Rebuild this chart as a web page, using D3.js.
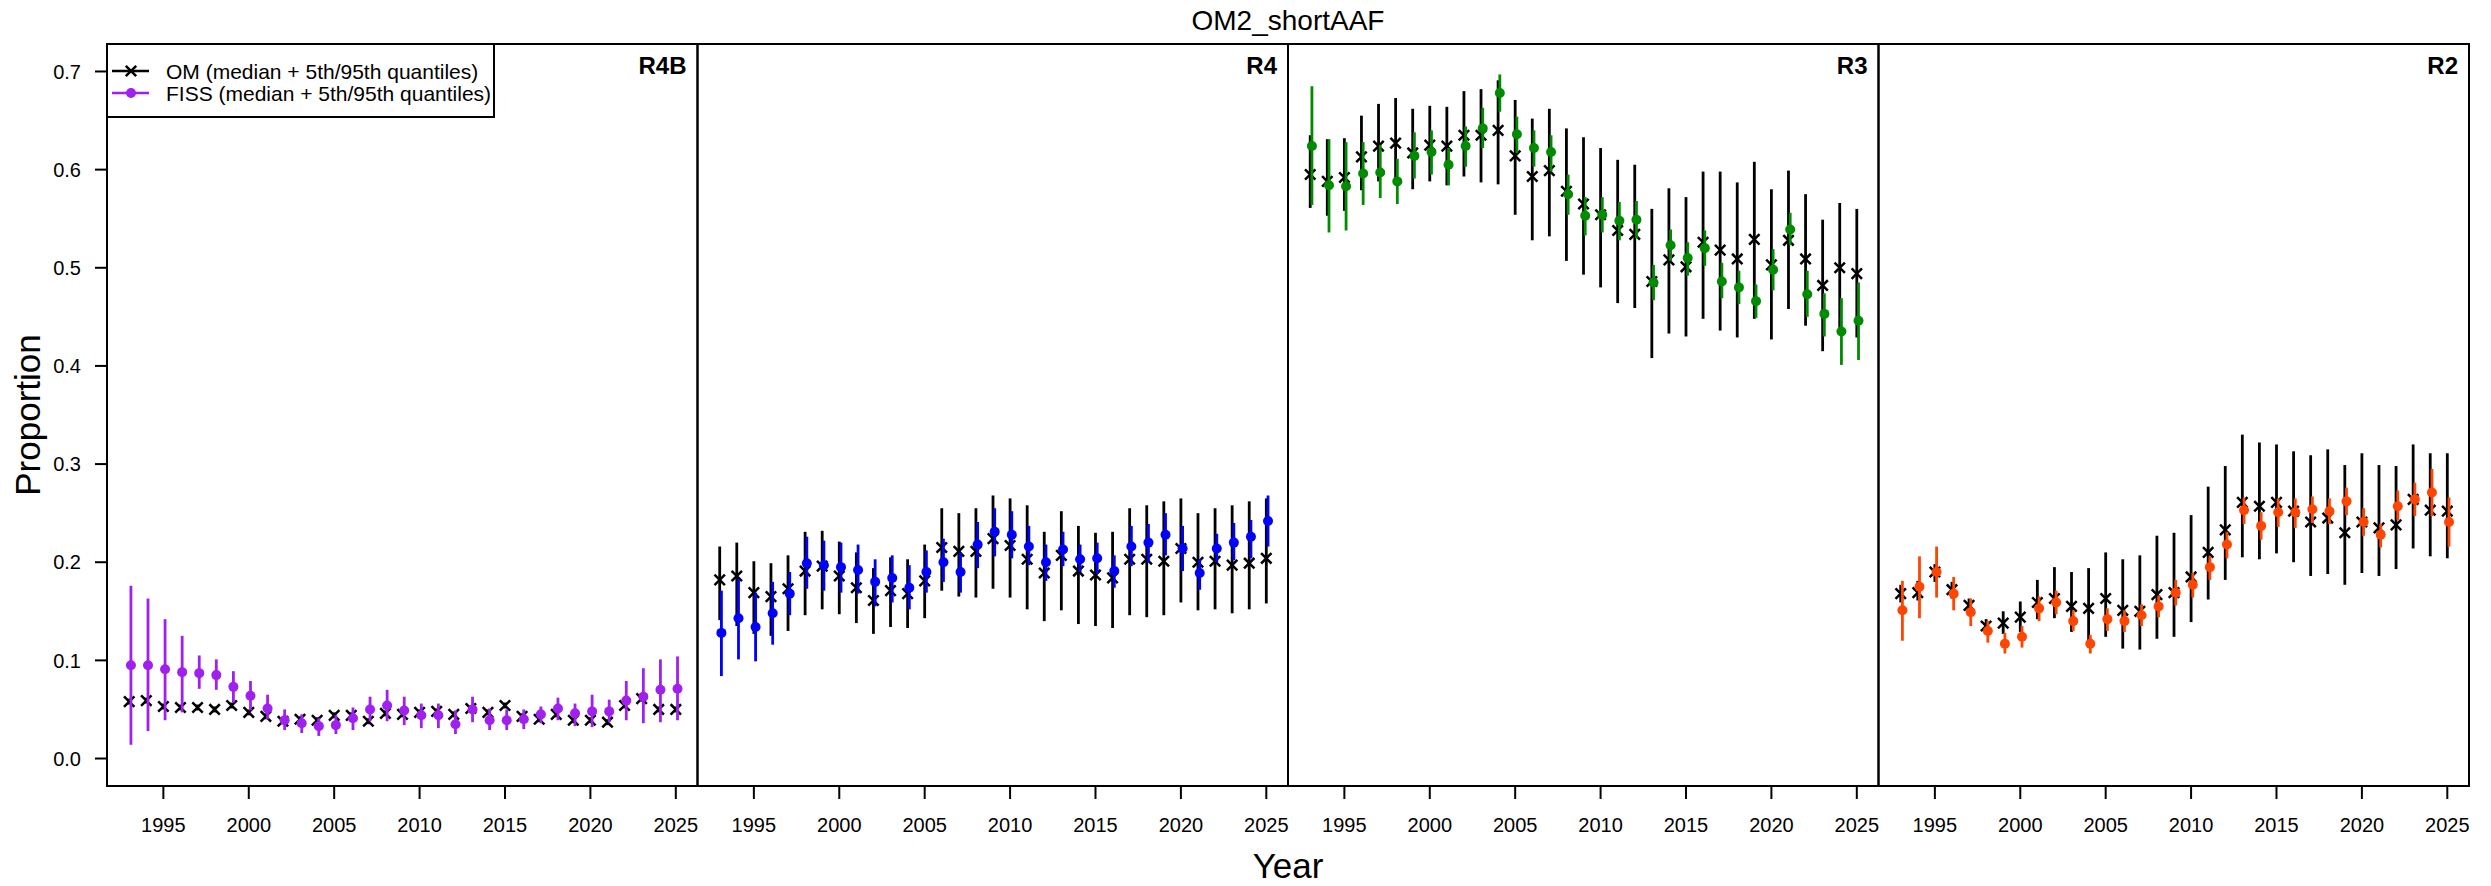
<!DOCTYPE html>
<html><head><meta charset="utf-8">
<script src="https://cdn.jsdelivr.net/npm/d3@7"></script>
<style>
body{margin:0;background:#fff}
svg{display:block}
text{font-family:"Liberation Sans",Arial,sans-serif;fill:#000}
</style>
</head><body>
<svg id="chart" width="2491" height="886"></svg>
<script>
// ---------------- DATA ----------------
const title = "OM2_shortAAF";
const years = [1993,1994,1995,1996,1997,1998,1999,2000,2001,2002,2003,2004,2005,2006,2007,2008,2009,2010,2011,2012,2013,2014,2015,2016,2017,2018,2019,2020,2021,2022,2023,2024,2025];
const regions = ["R4B","R4","R3","R2"];
const fissColors = ["#A020F0","#0000FF","#008B00","#FF4500"];
const xTicks = [1995,2000,2005,2010,2015,2020,2025];
const yTicks = [0.0,0.1,0.2,0.3,0.4,0.5,0.6,0.7];
const legendLabels = ["OM (median + 5th/95th quantiles)","FISS (median + 5th/95th quantiles)"];

// R4B
const omMed_R4B = [0.058,0.059,0.053,0.052,0.052,0.050,0.054,0.047,0.043,0.038,0.040,0.039,0.044,0.044,0.038,0.046,0.045,0.047,0.048,0.045,0.051,0.047,0.054,0.043,0.040,0.045,0.039,0.039,0.037,0.054,0.061,0.050,0.050];
const omLo_R4B  = [0.055,0.056,0.050,0.049,0.049,0.047,0.051,0.044,0.040,0.035,0.037,0.036,0.041,0.041,0.035,0.043,0.042,0.044,0.045,0.042,0.048,0.044,0.051,0.040,0.037,0.042,0.036,0.036,0.034,0.051,0.058,0.047,0.047];
const omHi_R4B  = [0.061,0.062,0.056,0.055,0.055,0.053,0.057,0.050,0.046,0.041,0.043,0.042,0.047,0.047,0.041,0.049,0.048,0.050,0.051,0.048,0.054,0.050,0.057,0.046,0.043,0.048,0.042,0.042,0.040,0.057,0.064,0.053,0.053];
const fsMed_R4B = [0.095,0.095,0.091,0.088,0.087,0.085,0.073,0.064,0.051,0.039,0.036,0.033,0.034,0.041,0.050,0.054,0.049,0.044,0.044,0.035,0.050,0.039,0.039,0.040,0.045,0.051,0.046,0.048,0.048,0.059,0.063,0.070,0.071];
const fsLo_R4B  = [0.014,0.028,0.039,0.047,0.071,0.070,0.057,0.049,0.040,0.029,0.026,0.023,0.025,0.029,0.038,0.038,0.034,0.031,0.031,0.025,0.037,0.029,0.029,0.030,0.036,0.039,0.033,0.032,0.037,0.039,0.036,0.037,0.039];
const fsHi_R4B  = [0.176,0.163,0.142,0.125,0.105,0.101,0.089,0.079,0.065,0.050,0.045,0.041,0.044,0.052,0.063,0.070,0.063,0.056,0.056,0.049,0.063,0.051,0.050,0.050,0.053,0.062,0.056,0.065,0.060,0.079,0.092,0.101,0.104];

// R4
const omMed_R4 = [0.182,0.186,0.169,0.165,0.173,0.191,0.196,0.186,0.174,0.161,0.171,0.168,0.181,0.215,0.211,0.211,0.224,0.217,0.203,0.189,0.207,0.191,0.187,0.184,0.203,0.203,0.201,0.214,0.200,0.201,0.197,0.199,0.204];
const omLo_R4  = [0.141,0.135,0.127,0.125,0.130,0.146,0.152,0.147,0.138,0.127,0.134,0.133,0.143,0.171,0.165,0.164,0.173,0.164,0.152,0.140,0.151,0.137,0.135,0.133,0.146,0.144,0.146,0.159,0.151,0.152,0.148,0.152,0.158];
const omHi_R4  = [0.216,0.220,0.201,0.199,0.207,0.231,0.232,0.221,0.210,0.194,0.205,0.203,0.218,0.255,0.250,0.255,0.268,0.265,0.258,0.231,0.252,0.237,0.230,0.231,0.255,0.258,0.262,0.265,0.250,0.255,0.258,0.262,0.265];
const fsMed_R4 = [0.128,0.143,0.134,0.148,0.168,0.199,0.197,0.195,0.192,0.180,0.184,0.174,0.190,0.200,0.190,0.218,0.231,0.228,0.216,0.200,0.213,0.203,0.204,0.191,0.216,0.220,0.228,0.214,0.189,0.214,0.220,0.226,0.242];
const fsLo_R4  = [0.084,0.101,0.099,0.116,0.146,0.173,0.171,0.169,0.168,0.155,0.159,0.152,0.169,0.180,0.169,0.194,0.206,0.204,0.197,0.181,0.196,0.190,0.188,0.174,0.196,0.200,0.207,0.191,0.172,0.200,0.202,0.204,0.216];
const fsHi_R4  = [0.171,0.183,0.169,0.180,0.190,0.226,0.222,0.220,0.218,0.203,0.207,0.197,0.212,0.224,0.210,0.241,0.255,0.252,0.237,0.218,0.231,0.218,0.220,0.207,0.237,0.239,0.250,0.237,0.203,0.229,0.240,0.243,0.268];

// R3
const omMed_R3 = [0.595,0.588,0.592,0.613,0.624,0.627,0.617,0.625,0.624,0.635,0.635,0.640,0.614,0.593,0.599,0.578,0.565,0.554,0.538,0.534,0.486,0.508,0.501,0.526,0.518,0.509,0.529,0.503,0.528,0.509,0.482,0.500,0.494];
const omLo_R3  = [0.561,0.553,0.558,0.579,0.588,0.591,0.580,0.588,0.584,0.593,0.587,0.585,0.554,0.528,0.532,0.507,0.493,0.480,0.464,0.459,0.408,0.433,0.430,0.448,0.436,0.429,0.448,0.427,0.458,0.441,0.415,0.434,0.429];
const omHi_R3  = [0.635,0.631,0.632,0.655,0.667,0.673,0.662,0.665,0.664,0.680,0.682,0.691,0.671,0.652,0.662,0.642,0.633,0.622,0.610,0.605,0.560,0.581,0.572,0.598,0.598,0.587,0.608,0.580,0.599,0.575,0.549,0.566,0.560];
const fsMed_R3 = [0.624,0.584,0.583,0.596,0.597,0.588,0.614,0.618,0.605,0.624,0.642,0.678,0.636,0.622,0.618,0.575,0.553,0.554,0.548,0.549,0.485,0.523,0.510,0.520,0.486,0.480,0.466,0.498,0.539,0.473,0.453,0.435,0.446];
const fsLo_R3  = [0.564,0.536,0.538,0.564,0.571,0.565,0.591,0.595,0.584,0.603,0.622,0.659,0.617,0.603,0.598,0.554,0.533,0.536,0.528,0.530,0.467,0.507,0.492,0.502,0.469,0.463,0.449,0.477,0.523,0.450,0.430,0.401,0.406];
const fsHi_R3  = [0.685,0.631,0.628,0.628,0.625,0.611,0.638,0.640,0.622,0.644,0.663,0.697,0.654,0.640,0.635,0.595,0.572,0.572,0.567,0.568,0.503,0.539,0.526,0.538,0.505,0.497,0.483,0.519,0.556,0.497,0.474,0.469,0.485];

// R2
const omMed_R2 = [0.168,0.169,0.190,0.172,0.156,0.135,0.138,0.144,0.159,0.163,0.155,0.153,0.163,0.151,0.150,0.167,0.169,0.185,0.210,0.233,0.261,0.257,0.261,0.252,0.241,0.245,0.230,0.241,0.235,0.238,0.264,0.253,0.252];
const omLo_R2  = [0.159,0.161,0.180,0.163,0.149,0.129,0.127,0.129,0.142,0.143,0.129,0.115,0.124,0.112,0.111,0.122,0.124,0.139,0.162,0.182,0.205,0.203,0.209,0.200,0.186,0.188,0.177,0.189,0.186,0.193,0.214,0.206,0.204];
const omHi_R2  = [0.177,0.181,0.198,0.180,0.163,0.142,0.150,0.160,0.182,0.195,0.190,0.194,0.210,0.203,0.207,0.227,0.230,0.248,0.277,0.298,0.330,0.322,0.320,0.313,0.309,0.315,0.299,0.311,0.299,0.298,0.320,0.311,0.311];
const fsMed_R2 = [0.151,0.175,0.190,0.168,0.149,0.130,0.117,0.124,0.153,0.159,0.140,0.117,0.142,0.140,0.146,0.155,0.169,0.177,0.195,0.218,0.253,0.237,0.251,0.251,0.254,0.252,0.262,0.241,0.228,0.257,0.264,0.271,0.241];
const fsLo_R2  = [0.120,0.143,0.164,0.151,0.135,0.118,0.107,0.113,0.140,0.147,0.130,0.107,0.130,0.129,0.135,0.144,0.156,0.164,0.182,0.204,0.239,0.223,0.236,0.235,0.240,0.239,0.248,0.227,0.215,0.243,0.247,0.247,0.216];
const fsHi_R2  = [0.181,0.206,0.216,0.185,0.163,0.140,0.128,0.135,0.165,0.171,0.151,0.126,0.153,0.151,0.157,0.166,0.182,0.189,0.206,0.231,0.266,0.251,0.265,0.265,0.267,0.265,0.276,0.255,0.239,0.273,0.281,0.295,0.266];

const panels = [
  {om:[omMed_R4B,omLo_R4B,omHi_R4B], fs:[fsMed_R4B,fsLo_R4B,fsHi_R4B]},
  {om:[omMed_R4,omLo_R4,omHi_R4],    fs:[fsMed_R4,fsLo_R4,fsHi_R4]},
  {om:[omMed_R3,omLo_R3,omHi_R3],    fs:[fsMed_R3,fsLo_R3,fsHi_R3]},
  {om:[omMed_R2,omLo_R2,omHi_R2],    fs:[fsMed_R2,fsLo_R2,fsHi_R2]}
];

// ---------------- LAYOUT ----------------
const svg = d3.select("#chart");
svg.append("rect").attr("width",2491).attr("height",886).attr("fill","#fff");
const plotL = 107, plotR = 2469, plotT = 44, plotB = 786;
const panelW = (plotR - plotL) / regions.length;
const y = d3.scaleLinear().domain([-0.028, 0.728]).range([plotB, plotT]);
const fissOffset = 0.1;
const crossS = 5.2, crossW = 2.5, dotR = 5.0;

function crossPath(cx, cy) {
  const s = crossS;
  return `M${cx-s},${cy-s}L${cx+s},${cy+s}M${cx-s},${cy+s}L${cx+s},${cy-s}`;
}

regions.forEach((reg, i) => {
  const x0 = plotL + i * panelW;
  const x = d3.scaleLinear().domain([1991.7, 2026.27]).range([x0, x0 + panelW]);
  const g = svg.append("g");
  const p = panels[i];

  // OM whiskers
  g.selectAll(".omw").data(years).enter().append("line")
    .attr("x1", (d) => x(d)).attr("x2", (d) => x(d))
    .attr("y1", (d, j) => y(p.om[1][j])).attr("y2", (d, j) => y(p.om[2][j]))
    .attr("stroke", "#000").attr("stroke-width", 2.8);
  // OM crosses
  g.selectAll(".omx").data(years).enter().append("path")
    .attr("d", (d, j) => crossPath(x(d), y(p.om[0][j])))
    .attr("stroke", "#000").attr("stroke-width", crossW).attr("fill", "none");
  // FISS whiskers
  g.selectAll(".fsw").data(years).enter().append("line")
    .attr("x1", (d) => x(d + fissOffset)).attr("x2", (d) => x(d + fissOffset))
    .attr("y1", (d, j) => y(p.fs[1][j])).attr("y2", (d, j) => y(p.fs[2][j]))
    .attr("stroke", fissColors[i]).attr("stroke-width", 2.8);
  // FISS dots
  g.selectAll(".fsd").data(years).enter().append("circle")
    .attr("cx", (d) => x(d + fissOffset)).attr("cy", (d, j) => y(p.fs[0][j]))
    .attr("r", dotR).attr("fill", fissColors[i]);

  // x axis
  const xa = svg.append("g").attr("transform", `translate(0,${plotB})`);
  xTicks.forEach(t => {
    xa.append("line").attr("x1", x(t)).attr("x2", x(t)).attr("y1", 0).attr("y2", 13)
      .attr("stroke", "#000").attr("stroke-width", 2);
    xa.append("text").attr("x", x(t)).attr("y", 46).attr("text-anchor", "middle")
      .attr("font-size", 20).text(t);
  });

  // panel frame
  svg.append("rect").attr("x", x0).attr("y", plotT).attr("width", panelW).attr("height", plotB - plotT)
    .attr("fill", "none").attr("stroke", "#000").attr("stroke-width", 2);
  // region label
  svg.append("text").attr("x", x0 + panelW - 11).attr("y", 74).attr("text-anchor", "end")
    .attr("font-size", 24).attr("font-weight", "bold").text(reg);
});

// y axis
const ya = svg.append("g");
yTicks.forEach(t => {
  ya.append("line").attr("x1", plotL - 12).attr("x2", plotL).attr("y1", y(t)).attr("y2", y(t))
    .attr("stroke", "#000").attr("stroke-width", 2);
  ya.append("text").attr("x", plotL - 26).attr("y", y(t)).attr("dy", "0.36em")
    .attr("text-anchor", "end").attr("font-size", 20).text(d3.format(".1f")(t));
});

// titles
svg.append("text").attr("x", (plotL + plotR) / 2).attr("y", 30).attr("text-anchor", "middle")
  .attr("font-size", 28).text(title);
svg.append("text").attr("x", (plotL + plotR) / 2).attr("y", 878).attr("text-anchor", "middle")
  .attr("font-size", 35).text("Year");
svg.append("text").attr("transform", `translate(40,${(plotT + plotB) / 2}) rotate(-90)`)
  .attr("text-anchor", "middle").attr("font-size", 35).text("Proportion");

// legend
const lg = svg.append("g");
lg.append("rect").attr("x", plotL).attr("y", plotT).attr("width", 387).attr("height", 73)
  .attr("fill", "#fff").attr("stroke", "#000").attr("stroke-width", 2);
const rows = [71, 93];
legendLabels.forEach((lab, k) => {
  const ry = rows[k];
  const col = k === 0 ? "#000" : fissColors[0];
  lg.append("line").attr("x1", 112).attr("x2", 149).attr("y1", ry).attr("y2", ry)
    .attr("stroke", col).attr("stroke-width", 2.5);
  if (k === 0) {
    lg.append("path").attr("d", crossPath(131, ry))
      .attr("stroke", "#000").attr("stroke-width", crossW);
  } else {
    lg.append("circle").attr("cx", 131).attr("cy", ry).attr("r", dotR).attr("fill", col);
  }
  lg.append("text").attr("x", 166).attr("y", ry).attr("dy", "0.36em")
    .attr("font-size", 21).text(lab);
});
</script>
</body></html>
